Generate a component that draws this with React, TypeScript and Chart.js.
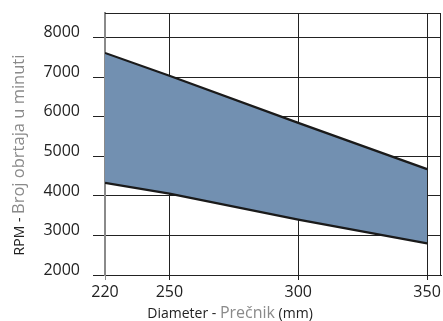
import React, { useEffect, useRef } from "react";
import { Chart, registerables } from "chart.js";

Chart.register(...registerables);

// Diameter positions on the axis (first position is labelled 220 in the original)
const xPositions = [225, 250, 300, 350];
const xTickLabels = ["220", "250", "300", "350"];
const yTickValues = [2000, 3000, 4000, 5000, 6000, 7000, 8000];

const upperRpm = [7620, 7040, 5850, 4680];
const lowerRpm = [4330, 4060, 3400, 2800];

const FONT = "'Open Sans', 'Noto Sans', sans-serif";
const DARK = "#222222";
const GREY = "#8a8a8a";

const titlesPlugin = {
  id: "titlesPlugin",
  afterDraw(chart: any) {
    const ctx = chart.ctx;
    const area = chart.chartArea;
    ctx.save();
    // frame: top and right
    ctx.strokeStyle = "#222";
    ctx.lineWidth = 1;
    ctx.beginPath();
    ctx.moveTo(area.left, Math.round(area.top) + 0.5);
    ctx.lineTo(area.right, Math.round(area.top) + 0.5);
    ctx.moveTo(Math.round(area.right) - 0.5, area.top);
    ctx.lineTo(Math.round(area.right) - 0.5, area.bottom);
    ctx.stroke();

    const drawParts = (parts: { t: string; size: number; color: string }[], cx: number, cy: number) => {
      let total = 0;
      const widths = parts.map((p) => {
        ctx.font = `${p.size}px ${FONT}`;
        const w = ctx.measureText(p.t).width;
        total += w;
        return w;
      });
      let x = cx - total / 2;
      ctx.textBaseline = "alphabetic";
      ctx.textAlign = "left";
      parts.forEach((p, i) => {
        ctx.font = `${p.size}px ${FONT}`;
        ctx.fillStyle = p.color;
        ctx.fillText(p.t, x, cy);
        x += widths[i];
      });
    };

    // x title
    drawParts(
      [
        { t: "Diameter - ", size: 14, color: DARK },
        { t: "Prečnik", size: 16, color: GREY },
        { t: " (mm)", size: 14, color: DARK },
      ],
      230,
      318
    );

    // y title
    ctx.translate(24, 155);
    ctx.rotate(-Math.PI / 2);
    drawParts(
      [
        { t: "RPM - ", size: 14, color: DARK },
        { t: "Broj obrtaja u minuti", size: 16.5, color: GREY },
      ],
      0,
      0
    );
    ctx.restore();
  },
};

export default function App() {
  const canvasRef = useRef<HTMLCanvasElement>(null);

  useEffect(() => {
    document.body.style.margin = "0";
    const canvas = canvasRef.current;
    if (!canvas) return;
    const chart = new Chart(canvas, {
      type: "line",
      data: {
        datasets: [
          {
            data: xPositions.map((x, i) => ({ x, y: upperRpm[i] })),
            borderColor: "#1a1a1a",
            borderWidth: 2.2,
            pointRadius: 0,
            fill: false,
            tension: 0,
          },
          {
            data: xPositions.map((x, i) => ({ x, y: lowerRpm[i] })),
            borderColor: "#1a1a1a",
            borderWidth: 2.2,
            pointRadius: 0,
            fill: "-1",
            backgroundColor: "#7290b1",
            tension: 0,
          },
        ],
      },
      options: {
        animation: false,
        responsive: false,
        maintainAspectRatio: false,
        layout: { padding: { left: 0, top: 13, right: 2, bottom: 0 } },
        plugins: {
          legend: { display: false },
          tooltip: { enabled: false },
        },
        scales: {
          x: {
            type: "linear",
            min: 225,
            max: 355.4,
            z: 1,
            afterBuildTicks: (scale: any) => {
              scale.ticks = xPositions.map((v) => ({ value: v }));
            },
            afterFit: (scale: any) => {
              scale.height = 46;
              scale.paddingLeft = 0;
              scale.paddingRight = 0;
            },
            ticks: {
              autoSkip: false,
              maxRotation: 0,
              padding: 3,
              color: DARK,
              font: { family: FONT, size: 16 },
              callback: (_v: any, i: number) => xTickLabels[i],
            },
            grid: {
              color: (c: any) => (c.index === 0 ? "#8a8a8a" : "#222"),
              lineWidth: 1,
              tickLength: 5,
            },
            border: { display: true, color: "#222", width: 1 },
          },
          y: {
            min: 2000,
            max: 8630,
            z: 1,
            afterBuildTicks: (scale: any) => {
              scale.ticks = yTickValues.map((v) => ({ value: v }));
            },
            afterFit: (scale: any) => {
              scale.width = 105;
              scale.paddingTop = 0;
              scale.paddingBottom = 0;
            },
            ticks: {
              autoSkip: false,
              padding: 13,
              labelOffset: -5,
              color: DARK,
              font: { family: FONT, size: 16 },
              callback: (v: any) => String(v),
            },
            grid: {
              color: "#222",
              lineWidth: 1,
              tickLength: 12,
            },
            border: { display: true, color: "#8a8a8a", width: 2 },
          },
        },
      },
      plugins: [titlesPlugin],
    });
    return () => chart.destroy();
  }, []);

  return (
    <div style={{ width: 443, height: 321 }}>
      <canvas ref={canvasRef} width={443} height={321} style={{ display: "block" }} />
    </div>
  );
}
